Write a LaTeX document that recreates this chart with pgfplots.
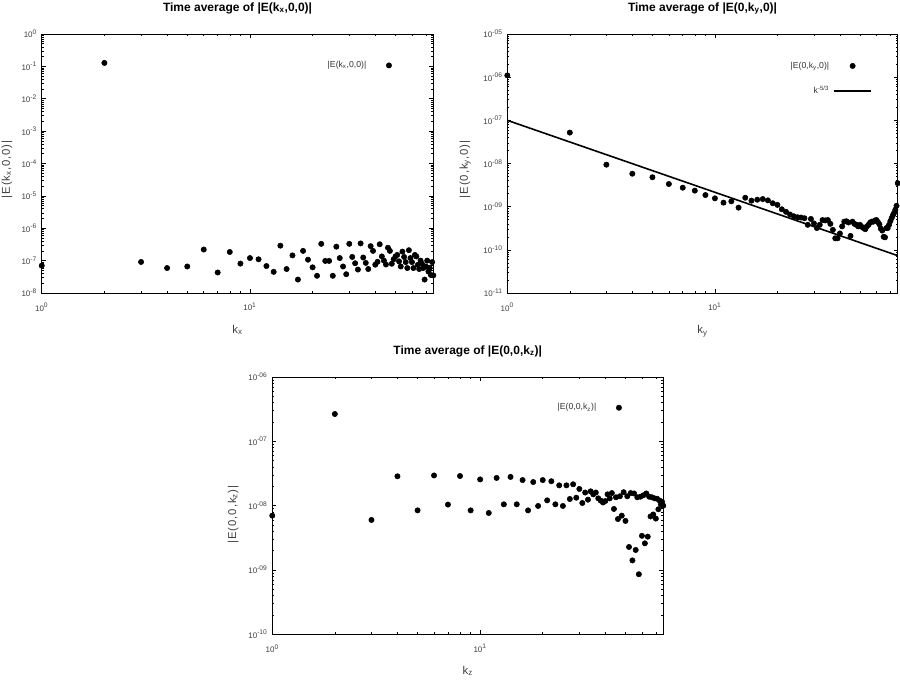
\documentclass[border=0pt]{standalone}
\usepackage{fontspec}
\setmainfont{Liberation Sans}
\newfontfamily\lblfont[LetterSpace=8]{Liberation Sans}
\usepackage{pgfplots}
\pgfplotsset{compat=1.18}
\newcommand\sub[1]{\textsubscript{#1}}
\begin{document}
\begin{tikzpicture}
\useasboundingbox (0,0) rectangle (675pt,509.25pt);
% ---------------- panel 1
\begin{loglogaxis}[scale only axis, anchor=south west, at={(31.3pt,289.5pt)}, width=293.7pt, height=194.25pt,
  xmin=1, xmax=76, ymin=1e-8, ymax=1,
  xtick={1,10}, xticklabels={10\textsuperscript{0},10\textsuperscript{1}},
  minor xtick={2,3,4,5,6,7,8,9,20,30,40,50,60,70},
  tick align=inside, major tick length=3pt, minor tick length=1.5pt,
  axis line style={line width=0.6pt},
  every tick/.style={black, line width=0.4pt},
  tick label style={font=\fontsize{6}{6.5}\selectfont, text=black!75},
  xticklabel style={yshift=-4pt},
  label style={font=\lblfont\fontsize{8.5}{9}\selectfont, text=black!75},
  title style={font=\bfseries\fontsize{9}{10}\selectfont, anchor=base, at={(0.5,1)}, yshift=11pt},
  xlabel style={at={(axis description cs:0.5,-0.155)}, anchor=base},
  clip=false,
  legend plot pos=right, legend cell align=right,
  legend style={draw=none, fill=none, inner sep=0pt, anchor=north east, font=\fontsize{6.5}{7}\selectfont, text=black!80, at={(0.935,0.906)}, nodes={inner xsep=3pt}},
  ytick={1e-8,1e-7,1e-6,1e-5,1e-4,1e-3,1e-2,1e-1,1},
  yticklabels={10\textsuperscript{-8},10\textsuperscript{-7},10\textsuperscript{-6},10\textsuperscript{-5},10\textsuperscript{-4},10\textsuperscript{-3},10\textsuperscript{-2},10\textsuperscript{-1},10\textsuperscript{0}},
  minor ytick={2e-8,3e-8,4e-8,5e-8,6e-8,7e-8,8e-8,9e-8,2e-7,3e-7,4e-7,5e-7,6e-7,7e-7,8e-7,9e-7,2e-6,3e-6,4e-6,5e-6,6e-6,7e-6,8e-6,9e-6,2e-5,3e-5,4e-5,5e-5,6e-5,7e-5,8e-5,9e-5,2e-4,3e-4,4e-4,5e-4,6e-4,7e-4,8e-4,9e-4,2e-3,3e-3,4e-3,5e-3,6e-3,7e-3,8e-3,9e-3,2e-2,3e-2,4e-2,5e-2,6e-2,7e-2,8e-2,9e-2,0.2,0.3,0.4,0.5,0.6,0.7,0.8,0.9},
  title={Time average of |E(k\sub{x},0,0)|},
  xlabel={k\sub{x}}, ylabel={|E(k\sub{x},0,0)|},
  ylabel style={at={(axis description cs:-0.089,0.477)}, anchor=center},
]
\addplot[only marks, mark=*, mark size=2pt, black,
  legend image code/.code={\path[draw=none,fill=none] (0pt,0pt) -- (28pt,0pt); \fill[black] (14pt,0pt) circle (2pt);}] coordinates {
(1,7.0e-8) (2,0.128) (3,9.1e-8) (4,5.9e-8) (5,6.6e-8) (6,2.2e-7) (7,4.3e-8) (8,1.85e-7) (9,8.1e-8) (10,1.2e-7)
(11,1.1e-7) (12,6.8e-8) (13,4.5e-8) (14,2.9e-7) (15,5.5e-8) (16,1.45e-7) (17,2.6e-8) (18,2.0e-7) (19,1.07e-7) (20,6.2e-8)
(21,3.4e-8) (22,3.3e-7) (23,9.8e-8) (24,9.8e-8) (25,3.4e-8) (26,2.7e-7) (27,1.2e-7) (28,6.6e-8) (29,3.8e-8) (30,3.3e-7)
(31,1.3e-7) (32,8.3e-8) (33,5.3e-8) (34,3.4e-7) (35,1.25e-7) (36,8.5e-8) (37,5.5e-8) (38,2.8e-7) (39,2.0e-7) (40,7.5e-8)
(41,9.2e-8) (42,3.2e-7) (43,1.35e-7) (44,1.0e-7) (45,7.6e-8) (46,2.5e-7) (47,2.0e-7) (48,8.0e-8) (49,1.1e-7) (50,1.35e-7)
(51,1.5e-7) (52,9.5e-8) (53,6.6e-8) (54,1.9e-7) (55,1.3e-7) (56,9.0e-8) (57,5.9e-8) (58,2.1e-7) (59,1.2e-7) (60,9.0e-8)
(61,5.9e-8) (62,1.5e-7) (63,1.35e-7) (64,7.4e-8) (65,5.5e-8) (66,1.0e-7) (67,8.0e-8) (68,5.9e-8) (69,2.6e-8) (70,6.6e-8)
(71,1.0e-7) (72,4.6e-8) (73,6.0e-8) (74,3.6e-8) (75,9.0e-8) (76,3.5e-8)
};
\addlegendentry{|E(k\sub{x},0,0)|}
\end{loglogaxis}
% ---------------- panel 2
\begin{loglogaxis}[scale only axis, anchor=south west, at={(380.5pt,289.5pt)}, width=292.8pt, height=194.25pt,
  xmin=1, xmax=76, ymin=1e-11, ymax=1e-5,
  xtick={1,10}, xticklabels={10\textsuperscript{0},10\textsuperscript{1}},
  minor xtick={2,3,4,5,6,7,8,9,20,30,40,50,60,70},
  tick align=inside, major tick length=3pt, minor tick length=1.5pt,
  axis line style={line width=0.6pt},
  every tick/.style={black, line width=0.4pt},
  tick label style={font=\fontsize{6}{6.5}\selectfont, text=black!75},
  xticklabel style={yshift=-4pt},
  label style={font=\lblfont\fontsize{8.5}{9}\selectfont, text=black!75},
  title style={font=\bfseries\fontsize{9}{10}\selectfont, anchor=base, at={(0.5,1)}, yshift=11pt},
  xlabel style={at={(axis description cs:0.5,-0.158)}, anchor=base},
  clip=false,
  legend plot pos=right, legend cell align=right,
  legend style={draw=none, fill=none, inner sep=0pt, anchor=north east, font=\fontsize{6.5}{7}\selectfont, text=black!80, at={(0.935,0.904)}, row sep=8pt, nodes={inner xsep=3pt}},
  ytick={1e-11,1e-10,1e-9,1e-8,1e-7,1e-6,1e-5},
  yticklabels={10\textsuperscript{-11},10\textsuperscript{-10},10\textsuperscript{-09},10\textsuperscript{-08},10\textsuperscript{-07},10\textsuperscript{-06},10\textsuperscript{-05}},
  minor ytick={2e-11,3e-11,4e-11,5e-11,6e-11,7e-11,8e-11,9e-11,2e-10,3e-10,4e-10,5e-10,6e-10,7e-10,8e-10,9e-10,2e-9,3e-9,4e-9,5e-9,6e-9,7e-9,8e-9,9e-9,2e-8,3e-8,4e-8,5e-8,6e-8,7e-8,8e-8,9e-8,2e-7,3e-7,4e-7,5e-7,6e-7,7e-7,8e-7,9e-7,2e-6,3e-6,4e-6,5e-6,6e-6,7e-6,8e-6,9e-6},
  title={Time average of |E(0,k\sub{y},0)|},
  xlabel={k\sub{y}}, ylabel={|E(0,k\sub{y},0)|},
  ylabel style={at={(axis description cs:-0.108,0.477)}, anchor=center},
]
\addplot[only marks, mark=*, mark size=2pt, black,
  legend image code/.code={\path[draw=none,fill=none] (0pt,0pt) -- (28pt,0pt); \fill[black] (14pt,0pt) circle (2pt);}] coordinates {
(1,1.1e-6) (2,5.2e-8) (3,9.4e-9) (4,5.8e-9) (5,4.8e-9) (6,3.35e-9) (7,2.75e-9) (8,2.35e-9) (9,1.86e-9) (10,1.56e-9)
(11,1.24e-9) (12,1.33e-9) (13,9.5e-10) (14,1.61e-9) (15,1.38e-9) (16,1.45e-9) (17,1.5e-9) (18,1.4e-9) (19,1.2e-9) (20,1.1e-9)
(21,8.7e-10) (22,7.6e-10) (23,6.6e-10) (24,6.0e-10) (25,5.7e-10) (26,5.6e-10) (27,5.4e-10) (28,3.8e-10) (29,5.2e-10) (30,4.1e-10)
(31,3.2e-10) (32,3.8e-10) (33,4.9e-10) (34,4.8e-10) (35,4.9e-10) (36,4.0e-10) (37,2.9e-10) (38,1.85e-10) (39,1.85e-10) (40,2.4e-10)
(41,3.5e-10) (42,4.5e-10) (43,4.6e-10) (44,4.3e-10) (45,2.1e-10) (46,4.5e-10) (47,4.0e-10) (48,3.8e-10) (49,3.5e-10) (50,3.8e-10)
(51,3.4e-10) (52,3.2e-10) (53,3.0e-10) (54,3.5e-10) (55,3.8e-10) (56,4.3e-10) (57,4.5e-10) (58,4.5e-10) (59,4.8e-10) (60,4.9e-10)
(61,4.4e-10) (62,3.9e-10) (63,3.1e-10) (64,2.8e-10) (65,2.0e-10) (66,1.95e-10) (67,3.2e-10) (68,3.2e-10) (69,3.8e-10) (70,4.6e-10)
(71,5.4e-10) (72,6.3e-10) (73,7.2e-10) (74,8.5e-10) (75,1.05e-9) (76,3.5e-9)
};
\addlegendentry{|E(0,k\sub{y},0)|}
\addplot[black, line width=1.2pt, no marks,
  legend image code/.code={\draw[black, line width=1.2pt] (0pt,0pt) -- (28pt,0pt);}] coordinates {(1,1e-7) (76,7.33e-11)};
\addlegendentry{k\textsuperscript{-5/3}}
\end{loglogaxis}
% ---------------- panel 3
\begin{loglogaxis}[scale only axis, anchor=south west, at={(204.2pt,33.5pt)}, width=293.25pt, height=193pt,
  xmin=1, xmax=76, ymin=1e-10, ymax=1e-6,
  xtick={1,10}, xticklabels={10\textsuperscript{0},10\textsuperscript{1}},
  minor xtick={2,3,4,5,6,7,8,9,20,30,40,50,60,70},
  tick align=inside, major tick length=3pt, minor tick length=1.5pt,
  axis line style={line width=0.6pt},
  every tick/.style={black, line width=0.4pt},
  tick label style={font=\fontsize{6}{6.5}\selectfont, text=black!75},
  xticklabel style={yshift=-4pt},
  label style={font=\lblfont\fontsize{8.5}{9}\selectfont, text=black!75},
  title style={font=\bfseries\fontsize{9}{10}\selectfont, anchor=base, at={(0.5,1)}, yshift=11pt},
  xlabel style={at={(axis description cs:0.5,-0.155)}, anchor=base},
  clip=false,
  legend plot pos=right, legend cell align=right,
  legend style={draw=none, fill=none, inner sep=0pt, anchor=north east, font=\fontsize{6.5}{7}\selectfont, text=black!80, at={(0.935,0.908)}, nodes={inner xsep=3pt}},
  ytick={1e-10,1e-9,1e-8,1e-7,1e-6},
  yticklabels={10\textsuperscript{-10},10\textsuperscript{-09},10\textsuperscript{-08},10\textsuperscript{-07},10\textsuperscript{-06}},
  minor ytick={2e-10,3e-10,4e-10,5e-10,6e-10,7e-10,8e-10,9e-10,2e-9,3e-9,4e-9,5e-9,6e-9,7e-9,8e-9,9e-9,2e-8,3e-8,4e-8,5e-8,6e-8,7e-8,8e-8,9e-8,2e-7,3e-7,4e-7,5e-7,6e-7,7e-7,8e-7,9e-7},
  title={Time average of |E(0,0,k\sub{z})|},
  xlabel={k\sub{z}}, ylabel={|E(0,0,k\sub{z})|},
  ylabel style={at={(axis description cs:-0.1,0.465)}, anchor=center},
]
\addplot[only marks, mark=*, mark size=2pt, black,
  legend image code/.code={\path[draw=none,fill=none] (0pt,0pt) -- (28pt,0pt); \fill[black] (14pt,0pt) circle (2pt);}] coordinates {
(1,7.0e-9) (2,2.66e-7) (3,6.0e-9) (4,2.86e-8) (5,8.45e-9) (6,2.95e-8) (7,1.04e-8) (8,2.89e-8) (9,8.45e-9) (10,2.56e-8)
(11,7.7e-9) (12,2.7e-8) (13,1.05e-8) (14,2.8e-8) (15,1.05e-8) (16,2.5e-8) (17,8.45e-9) (18,2.33e-8) (19,9.9e-9) (20,2.5e-8)
(21,1.21e-8) (22,2.4e-8) (23,1.05e-8) (24,2.07e-8) (25,9.9e-9) (26,2.07e-8) (27,1.27e-8) (28,2.15e-8) (29,1.33e-8) (30,1.82e-8)
(31,1.1e-8) (32,1.6e-8) (33,1.24e-8) (34,1.67e-8) (35,1.5e-8) (36,1.6e-8) (37,1.3e-8) (38,1.2e-8) (39,1.12e-8) (40,1.18e-8)
(41,1.5e-8) (42,1.3e-8) (43,1.57e-8) (44,8.9e-9) (45,1.35e-8) (46,6.2e-9) (47,1.4e-8) (48,7.0e-9) (49,1.62e-8) (50,5.8e-9)
(51,1.4e-8) (52,2.28e-9) (53,1.57e-8) (54,1.41e-9) (55,1.55e-8) (56,2.05e-9) (57,1.35e-8) (58,8.6e-10) (59,1.38e-8) (60,3.4e-9)
(61,1.45e-8) (62,2.6e-9) (63,1.55e-8) (64,3.3e-9) (65,1.38e-8) (66,6.8e-9) (67,1.35e-8) (68,7.3e-9) (69,1.3e-8) (70,6.3e-9)
(71,1.28e-8) (72,8.8e-9) (73,1.2e-8) (74,1.05e-8) (75,1.15e-8) (76,1.0e-8)
};
\addlegendentry{|E(0,0,k\sub{z})|}
\end{loglogaxis}
\end{tikzpicture}
\end{document}
